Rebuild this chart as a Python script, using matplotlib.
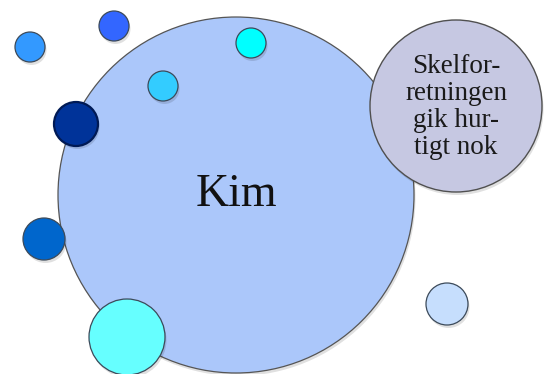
"""Boble-diagram: Kim i midten, omgivet af små cirkler og en kommentar-boble."""

import matplotlib

matplotlib.use("Agg")
import matplotlib.pyplot as plt
from matplotlib.patches import Circle

# Hovedboble
hoved_navn = "Kim"
hoved_x, hoved_y, hoved_r = 236, 195, 178

# Kommentar-boble
kommentar_tekst = "Skelfor-\nretningen\ngik hur-\ntigt nok"
kommentar_x, kommentar_y, kommentar_r = 456, 106, 86

# Små bobler (pixelkoordinater, y nedad)
smaa_x = [30, 114, 251, 163, 76, 44, 127, 447]
smaa_y = [47, 26, 43, 86, 124, 239, 337, 304]
smaa_r = [15, 15, 15, 15, 22, 21, 38, 21]
smaa_farver = ["#3399ff", "#3366ff", "#00ffff", "#33ccff",
               "#003399", "#0066cc", "#66ffff", "#c6defd"]

W, H = 546, 374


def boble(ax, x, y, r, farve, kant="#4a4a4a", lw=0.9, z=2):
    # svag skygge under hver boble
    ax.add_patch(Circle((x + 1.5, y + 3), r, facecolor="black", edgecolor="none",
                        alpha=0.12, zorder=z - 0.5))
    ax.add_patch(Circle((x, y), r, facecolor=farve, edgecolor=kant, lw=lw, zorder=z))


fig = plt.figure(figsize=(W / 100, H / 100), dpi=100)
ax = fig.add_axes([0, 0, 1, 1])
ax.set_xlim(0, W)
ax.set_ylim(H, 0)
ax.set_aspect("equal")
ax.axis("off")

boble(ax, hoved_x, hoved_y, hoved_r, "#abc7fa", kant="#555555", lw=0.9, z=1)
ax.text(hoved_x, hoved_y, hoved_navn, ha="center", va="center", fontsize=33,
        family="Liberation Serif", color="#111111", zorder=5)

boble(ax, kommentar_x, kommentar_y, kommentar_r, "#c6c8e2", kant="#505050", lw=1.0, z=3)
ax.text(kommentar_x, kommentar_y + 1, kommentar_tekst, ha="center", va="center",
        fontsize=19.5, linespacing=1.12, family="Liberation Serif", color="#1a1a1a",
        zorder=6)

for x, y, r, c in zip(smaa_x, smaa_y, smaa_r, smaa_farver):
    kant = "#001a55" if c == "#003399" else "#3c4a5a"
    lw = 1.6 if c == "#003399" else 0.9
    boble(ax, x, y, r, c, kant=kant, lw=lw, z=4)

fig.savefig("out.png", dpi=100)
